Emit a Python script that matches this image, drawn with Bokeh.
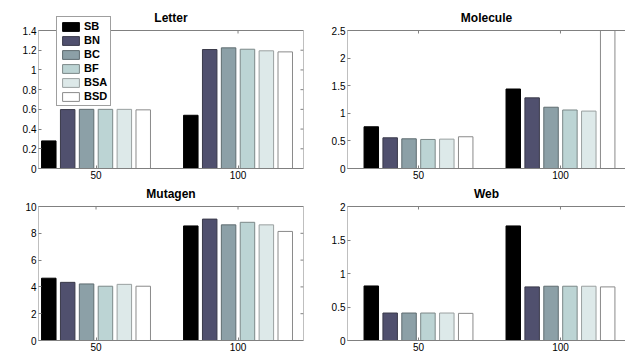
import numpy as np
from bokeh.plotting import figure
from bokeh.models import Range1d, FixedTicker, Legend, LegendItem, Label
from bokeh.layouts import gridplot
from bokeh.embed import file_html
from bokeh.resources import INLINE

groups = ["50", "100"]
series = ["SB", "BN", "BC", "BF", "BSA", "BSD"]
fill_colors = ["#000000", "#50506e", "#8ca0a7", "#bcd4d4", "#dde9e9", "#ffffff"]
line_colors = ["#000000", "#3a3a4a", "#5f6c70", "#7c8888", "#9aa0a0", "#8a8a8a"]

# values per series, [group 50, group 100]
letter_vals = [[0.28, 0.54], [0.598, 1.207], [0.60, 1.224], [0.60, 1.21], [0.60, 1.194], [0.595, 1.183]]
molecule_vals = [[0.756, 1.44], [0.556, 1.28], [0.538, 1.11], [0.526, 1.06], [0.532, 1.04], [0.575, 2.9]]
mutagen_vals = [[4.65, 8.55], [4.34, 9.06], [4.22, 8.63], [4.05, 8.82], [4.19, 8.63], [4.05, 8.14]]
web_vals = [[0.814, 1.71], [0.41, 0.80], [0.41, 0.81], [0.41, 0.81], [0.41, 0.81], [0.405, 0.80]]

letter_ticks = [0, 0.2, 0.4, 0.6, 0.8, 1.0, 1.2, 1.4]
letter_labels = ["0", "0.2", "0.4", "0.6", "0.8", "1", "1.2", "1.4"]
molecule_ticks = [0, 0.5, 1.0, 1.5, 2.0, 2.5]
molecule_labels = ["0", "0.5", "1", "1.5", "2", "2.5"]
mutagen_ticks = [0, 2, 4, 6, 8, 10]
mutagen_labels = ["0", "2", "4", "6", "8", "10"]
web_ticks = [0, 0.5, 1.0, 1.5, 2.0]
web_labels = ["0", "0.5", "1", "1.5", "2"]

FONT = "Liberation Sans"
AXC = "#808080"
BAR_W = 0.102
PITCH = 0.133
TICK = 3


def style_axis(ax):
    ax.axis_line_color = AXC
    ax.major_tick_line_color = AXC
    ax.minor_tick_line_color = None
    ax.major_tick_in = TICK
    ax.major_tick_out = 0
    ax.major_label_text_font = FONT
    ax.major_label_text_color = "#000000"
    ax.major_label_text_font_size = "10px"
    ax.major_label_standoff = 2


def make_panel(title, vals, yticks, ylabels, xr, w, h, bl, br, bt, bb, gap, closed, legend=False):
    frame_h = h - bt - bb
    frame_w = w - bl - br
    box_h = frame_h - gap
    ymax = yticks[-1]
    yend = ymax * frame_h / box_h
    p = figure(width=w, height=h, x_range=Range1d(*xr),
               y_range=Range1d(0, yend),
               output_backend="svg", toolbar_location=None,
               min_border_left=bl, min_border_right=br,
               min_border_top=bt, min_border_bottom=bb)
    p.xgrid.visible = False
    p.ygrid.visible = False
    p.background_fill_color = "#ffffff"
    p.border_fill_color = "#ffffff"
    p.outline_line_color = None

    base = np.arange(1, len(groups) + 1)
    renderers = []
    for i, s in enumerate(series):
        xs = base + (i - 2.5) * PITCH
        tops = np.minimum(np.array(vals[i]), ymax)
        r = p.vbar(x=xs, top=tops, width=BAR_W, bottom=0,
                   fill_color=fill_colors[i], line_color=line_colors[i], line_width=1)
        renderers.append(r)

    xax = p.xaxis[0]
    xax.ticker = FixedTicker(ticks=list(base))
    xax.major_label_overrides = {int(b): g for b, g in zip(base, groups)}
    style_axis(xax)
    yax = p.yaxis[0]
    yax.ticker = FixedTicker(ticks=yticks)
    yax.major_label_overrides = {t: l for t, l in zip(yticks, ylabels)}
    style_axis(yax)
    yax.axis_line_color = None

    x0, x1 = xr
    ppx = frame_w / (x1 - x0)
    ppy = box_h / ymax
    # box borders
    bx0 = [x0, x0]
    bx1 = [x0, x1]
    by0 = [0, ymax]
    by1 = [ymax, ymax]
    if closed:
        bx0.append(x1); bx1.append(x1); by0.append(0); by1.append(ymax)
    p.segment(x0=bx0, y0=by0, x1=bx1, y1=by1, line_color=AXC, line_width=1)
    # inward ticks on top
    p.segment(x0=base, y0=[ymax] * len(base), x1=base, y1=[ymax - TICK / ppy] * len(base),
              line_color=AXC, line_width=1)
    if closed:
        p.segment(x0=[x1] * len(yticks), y0=yticks, x1=[x1 - TICK / ppx] * len(yticks), y1=yticks,
                  line_color=AXC, line_width=1)

    p.add_layout(Label(x=(x0 + x1) / 2, y=ymax, text=title, y_offset=6,
                       text_align="center", text_baseline="bottom",
                       text_font=FONT, text_font_size="12px", text_font_style="bold",
                       text_color="#000000"))

    if legend:
        items = [LegendItem(label=s, renderers=[r]) for s, r in zip(series, renderers)]
        lg = Legend(items=items, location=(18, 62))
        lg.label_text_font = FONT
        lg.label_text_font_size = "11px"
        lg.label_text_font_style = "bold"
        lg.label_text_color = "#000000"
        lg.glyph_width = 21
        lg.glyph_height = 11
        lg.label_height = 11
        lg.label_width = 10
        lg.spacing = 2
        lg.padding = 3
        lg.margin = 0
        lg.label_standoff = 3
        lg.border_line_color = "#404040"
        lg.border_line_width = 1
        lg.background_fill_alpha = 1.0
        p.add_layout(lg)
    return p


tl = make_panel("Letter", letter_vals, letter_ticks, letter_labels, (0.595, 2.461),
                317, 182, 38, 14, 10, 14, 20, True, legend=True)
tr = make_panel("Molecule", molecule_vals, molecule_ticks, molecule_labels, (0.5, 2.458),
                308, 182, 30, 0, 10, 14, 20, False)
bl = make_panel("Mutagen", mutagen_vals, mutagen_ticks, mutagen_labels, (0.595, 2.461),
                317, 172, 38, 14, 2, 14, 22, True)
br = make_panel("Web", web_vals, web_ticks, web_labels, (0.5, 2.458),
                308, 172, 30, 0, 2, 14, 22, False)

p = gridplot([[tl, tr], [bl, br]], toolbar_location=None)

open("out.html", "w").write(file_html(p, INLINE))
